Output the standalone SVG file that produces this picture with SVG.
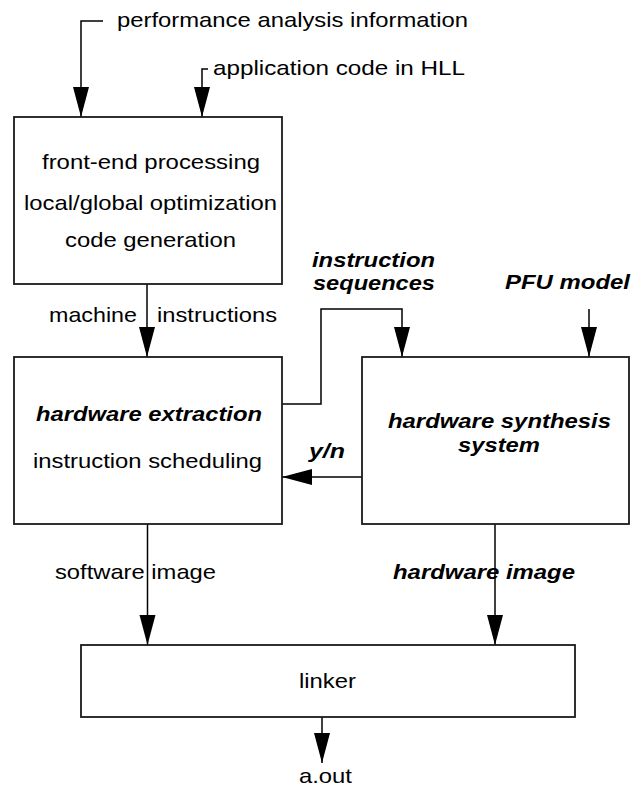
<svg xmlns="http://www.w3.org/2000/svg" width="641" height="787" viewBox="0 0 641 787">
<style>
  .box { fill: #fff; stroke: #1a1a1a; stroke-width: 1.8; }
  .ln { fill: none; stroke: #000; stroke-width: 1.5; }
  text { font-family: "Liberation Sans", Arial, sans-serif; font-size: 21px; fill: #000; }
  .bi { font-weight: bold; font-style: italic; }
</style>
<defs>
  <marker id="ah" markerUnits="userSpaceOnUse" markerWidth="30" markerHeight="16" refX="30" refY="8" orient="auto" overflow="visible">
    <path d="M0,0 L30,8 L0,16 Z" fill="#000"/>
  </marker>
</defs>
<rect width="641" height="787" fill="#fff"/>

<g id="connectors">
  <path class="ln" d="M103,21 H81 V117" marker-end="url(#ah)"/>
  <path class="ln" d="M208,69 H202 V117" marker-end="url(#ah)"/>
  <path class="ln" d="M147,284 V357" marker-end="url(#ah)"/>
  <path class="ln" d="M282,404 H321 V309 H402 V357" marker-end="url(#ah)"/>
  <path class="ln" d="M589,309 V357" marker-end="url(#ah)"/>
  <path class="ln" d="M362,477 H282" marker-end="url(#ah)"/>
  <path class="ln" d="M147.5,524 V645" marker-end="url(#ah)"/>
  <path class="ln" d="M495,524 V645" marker-end="url(#ah)"/>
  <path class="ln" d="M322,717 V763" marker-end="url(#ah)"/>
</g>

<g id="labels">
  <text x="117" y="27" textLength="351" lengthAdjust="spacingAndGlyphs">performance analysis information</text>
  <text x="213" y="75" textLength="252" lengthAdjust="spacingAndGlyphs">application code in HLL</text>
  <text x="49" y="322" textLength="88" lengthAdjust="spacingAndGlyphs">machine</text>
  <text x="157" y="322" textLength="120" lengthAdjust="spacingAndGlyphs">instructions</text>
  <text class="bi" x="312" y="267" textLength="123" lengthAdjust="spacingAndGlyphs">instruction</text>
  <text class="bi" x="313" y="290" textLength="122" lengthAdjust="spacingAndGlyphs">sequences</text>
  <text class="bi" x="505" y="289" textLength="125" lengthAdjust="spacingAndGlyphs">PFU model</text>
  <text class="bi" x="309" y="458" textLength="36" lengthAdjust="spacingAndGlyphs">y/n</text>
  <text x="55" y="579" textLength="161" lengthAdjust="spacingAndGlyphs">software image</text>
  <text class="bi" x="393" y="579" textLength="182" lengthAdjust="spacingAndGlyphs">hardware image</text>
  <text x="299" y="783" textLength="53" lengthAdjust="spacingAndGlyphs">a.out</text>
</g>

<g id="frontend">
  <rect class="box" x="14" y="117" width="268" height="167"/>
  <text x="42" y="169" textLength="218" lengthAdjust="spacingAndGlyphs">front-end processing</text>
  <text x="24" y="210" textLength="253" lengthAdjust="spacingAndGlyphs">local/global optimization</text>
  <text x="65" y="247" textLength="171" lengthAdjust="spacingAndGlyphs">code generation</text>
</g>

<g id="extraction">
  <rect class="box" x="14" y="357" width="268" height="167"/>
  <text class="bi" x="36" y="421" textLength="226" lengthAdjust="spacingAndGlyphs">hardware extraction</text>
  <text x="33" y="468" textLength="229" lengthAdjust="spacingAndGlyphs">instruction scheduling</text>
</g>

<g id="synthesis">
  <rect class="box" x="362" y="357" width="267" height="167"/>
  <text class="bi" x="388" y="428" textLength="223" lengthAdjust="spacingAndGlyphs">hardware synthesis</text>
  <text class="bi" x="458" y="452" textLength="82" lengthAdjust="spacingAndGlyphs">system</text>
</g>

<g id="linker">
  <rect class="box" x="81" y="645" width="494" height="72"/>
  <text x="299" y="688" textLength="57" lengthAdjust="spacingAndGlyphs">linker</text>
</g>
</svg>
